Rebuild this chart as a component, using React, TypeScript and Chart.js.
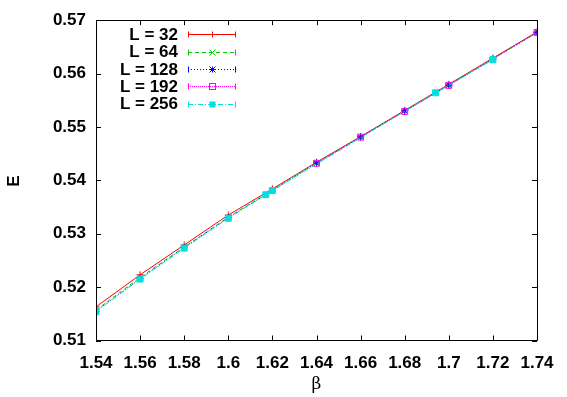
import React, { useEffect, useRef } from "react";
import { Chart, registerables } from "chart.js";

Chart.register(...registerables);

const BETA_GRID = [1.54, 1.56, 1.58, 1.6, 1.62, 1.64, 1.66, 1.68, 1.7, 1.72, 1.74];
const E_L32 = [0.5163, 0.5223, 0.5279, 0.5335, 0.5384, 0.5434, 0.5482, 0.5531, 0.558, 0.5629, 0.5678];
const E_L64 = [0.5157, 0.5218, 0.5275, 0.5331, 0.5382, 0.5433, 0.5481, 0.553, 0.5579, 0.5628, 0.5677];
const E_L128 = [0.5155, 0.5216, 0.5274, 0.533, 0.5381, 0.5432, 0.5481, 0.553, 0.5578, 0.5627, 0.5677];
const BETA_L192 = [1.64, 1.66, 1.68, 1.7, 1.74];
const E_L192 = [0.5432, 0.5481, 0.5529, 0.5578, 0.5677];
const BETA_L256 = [1.54, 1.56, 1.58, 1.6, 1.617, 1.62, 1.694, 1.72];
const E_L256 = [0.5154, 0.5215, 0.5273, 0.5329, 0.5373, 0.5381, 0.5564, 0.5626];

const LABELS = ["L = 32", "L = 64", "L = 128", "L = 192", "L = 256"];
const X_MIN = 1.54, X_MAX = 1.74, X_STEP = 0.02;
const Y_MIN = 0.51, Y_MAX = 0.57, Y_STEP = 0.01;

const FONT = "bold 17px 'Liberation Sans', Arial, sans-serif";

const pts = (xs: number[], ys: number[]) => xs.map((x, i) => ({ x, y: ys[i] }));

const STYLES = [
  { color: "#ff0000", dash: [] as number[], point: "cross", r: 3.5 },
  { color: "#00d000", dash: [4, 3], point: "crossRot", r: 3.5 },
  { color: "#0000ff", dash: [1, 2], point: "star", r: 3.5 },
  { color: "#ff00ff", dash: [1, 1], point: "rect", r: 4.2 },
  { color: "#00e0e0", dash: [5, 2, 1, 2], point: "rect", r: 4.2 },
];

function marker(ctx: CanvasRenderingContext2D, i: number, x: number, y: number) {
  const st = STYLES[i];
  ctx.save();
  ctx.setLineDash([]);
  ctx.strokeStyle = st.color;
  ctx.fillStyle = st.color;
  ctx.lineWidth = 1;
  const r = 3;
  ctx.beginPath();
  if (i === 0 || i === 2) {
    ctx.moveTo(x - r, y); ctx.lineTo(x + r, y);
    ctx.moveTo(x, y - r); ctx.lineTo(x, y + r);
  }
  if (i === 1 || i === 2) {
    ctx.moveTo(x - r, y - r); ctx.lineTo(x + r, y + r);
    ctx.moveTo(x - r, y + r); ctx.lineTo(x + r, y - r);
  }
  ctx.stroke();
  if (i === 3) ctx.strokeRect(x - 3, y - 3, 6, 6);
  if (i === 4) ctx.fillRect(x - 3, y - 3, 6, 6);
  ctx.restore();
}

const framePlugin = {
  id: "gnuplotFrame",
  afterDraw(chart: any) {
    const { ctx, chartArea: a, scales } = chart;
    const xs = scales.x, ys = scales.y;
    ctx.save();
    ctx.strokeStyle = "#000";
    ctx.lineWidth = 1;
    ctx.setLineDash([]);
    ctx.beginPath();
    ctx.rect(Math.round(a.left) + 0.5, Math.round(a.top) + 0.5, Math.round(a.right - a.left), Math.round(a.bottom - a.top));
    ctx.stroke();
    const tl = 5;
    ctx.beginPath();
    for (let v = X_MIN; v <= X_MAX + 1e-9; v += X_STEP) {
      const px = Math.round(xs.getPixelForValue(v)) + 0.5;
      ctx.moveTo(px, a.bottom); ctx.lineTo(px, a.bottom - tl);
      ctx.moveTo(px, a.top); ctx.lineTo(px, a.top + tl);
    }
    for (let v = Y_MIN; v <= Y_MAX + 1e-9; v += Y_STEP) {
      const py = Math.round(ys.getPixelForValue(v)) + 0.5;
      ctx.moveTo(a.left, py); ctx.lineTo(a.left + tl, py);
      ctx.moveTo(a.right, py); ctx.lineTo(a.right - tl, py);
    }
    ctx.stroke();

    // axis titles
    ctx.fillStyle = "#000";
    ctx.font = FONT;
    ctx.textAlign = "center";
    ctx.textBaseline = "middle";
    ctx.save();
    ctx.translate(14, 181);
    ctx.rotate(-Math.PI / 2);
    ctx.fillText("E", 0, 0);
    ctx.restore();
    ctx.font = "17px 'DejaVu Serif', 'Liberation Serif', serif";
    ctx.fillText("β", (a.left + a.right) / 2, 385);

    // legend
    const rowsY = [34, 51.5, 69, 86, 103.5];
    chart.data.datasets.forEach((ds: any, i: number) => {
      const y = rowsY[i];
      ctx.font = FONT;
      ctx.fillStyle = "#000";
      ctx.textAlign = "right";
      ctx.textBaseline = "middle";
      ctx.fillText(ds.label, 178, y + 1);
      const st = STYLES[i];
      const yy = Math.round(y) + 0.5;
      ctx.strokeStyle = st.color;
      ctx.lineWidth = 1;
      ctx.setLineDash(st.dash);
      ctx.beginPath();
      ctx.moveTo(188, yy);
      ctx.lineTo(236, yy);
      ctx.stroke();
      ctx.setLineDash([]);
      ctx.beginPath();
      ctx.moveTo(188.5, yy - 3); ctx.lineTo(188.5, yy + 3);
      ctx.moveTo(235.5, yy - 3); ctx.lineTo(235.5, yy + 3);
      ctx.stroke();
      marker(ctx, i, 212.5, yy);
    });
    ctx.restore();
  },
};

export default function App() {
  const ref = useRef<HTMLCanvasElement | null>(null);
  useEffect(() => {
    const canvas = ref.current!;
    const data = [
      pts(BETA_GRID, E_L32),
      pts(BETA_GRID, E_L64),
      pts(BETA_GRID, E_L128),
      pts(BETA_L192, E_L192),
      pts(BETA_L256, E_L256),
    ];
    const chart = new Chart(canvas, {
      type: "line",
      data: {
        datasets: data.map((d, i) => ({
          label: LABELS[i],
          data: d,
          borderColor: STYLES[i].color,
          backgroundColor: i === 4 ? STYLES[i].color : "rgba(0,0,0,0)",
          borderWidth: 1,
          borderDash: STYLES[i].dash,
          pointStyle: STYLES[i].point as any,
          pointRadius: STYLES[i].r,
          pointBorderColor: STYLES[i].color,
          pointBackgroundColor: i === 4 ? STYLES[i].color : "rgba(0,0,0,0)",
          pointBorderWidth: 1,
          tension: 0,
          fill: false,
          order: 5 - i,
        })),
      },
      options: {
        animation: false,
        responsive: false,
        maintainAspectRatio: false,
        layout: { padding: { top: 20, right: 30, left: 0, bottom: 0 } },
        plugins: { legend: { display: false }, tooltip: { enabled: false } },
        scales: {
          x: {
            type: "linear",
            min: X_MIN,
            max: X_MAX,
            grid: { display: false, drawTicks: false },
            border: { display: false },
            afterFit: (s: any) => { s.height = 56.5; },
            ticks: {
              stepSize: X_STEP,
              padding: 13,
              color: "#000",
              font: { family: "'Liberation Sans', Arial, sans-serif", size: 17, weight: "bold" },
              maxRotation: 0,
              autoSkip: false,
              callback: (v: any) => String(Number(Number(v).toFixed(2))),
            },
          },
          y: {
            type: "linear",
            min: Y_MIN,
            max: Y_MAX,
            grid: { display: false, drawTicks: false },
            border: { display: false },
            afterFit: (s: any) => { s.width = 96; },
            ticks: {
              stepSize: Y_STEP,
              padding: 10,
              color: "#000",
              font: { family: "'Liberation Sans', Arial, sans-serif", size: 17, weight: "bold" },
              autoSkip: false,
              callback: (v: any) => Number(v).toFixed(2),
            },
          },
        },
      },
      plugins: [framePlugin],
    });
    return () => chart.destroy();
  }, []);
  return (
    <div style={{ position: "absolute", left: 0, top: 0, width: 567, height: 397, background: "#fff" }}>
      <canvas ref={ref} width={567} height={397} style={{ display: "block", width: 567, height: 397 }} />
    </div>
  );
}
